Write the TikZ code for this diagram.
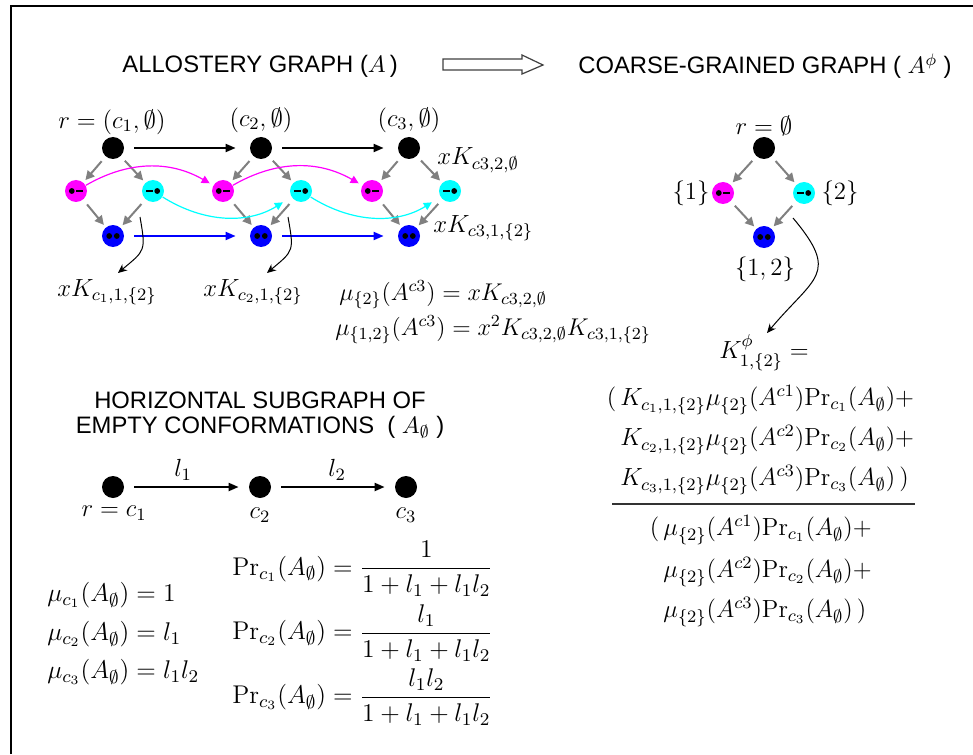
\RequirePackage{fix-cm}
\documentclass[tikz,border=0pt]{standalone}
\usepackage{fontspec}
\usepackage{amsmath}
\newfontfamily\headfont{Liberation Sans}
\usetikzlibrary{arrows.meta}
\definecolor{mgc}{RGB}{255,0,255}
\definecolor{cyc}{RGB}{0,255,255}
\definecolor{blc}{RGB}{0,0,255}
\definecolor{grc}{RGB}{128,128,128}
\begin{document}
\begin{tikzpicture}[x=0.5pt,y=0.5pt,
  every node/.style={font=\fontsize{12.4}{15}\selectfont, inner sep=0pt},
  bigmath/.style={font=\fontsize{12.8}{15}\selectfont},
  smallmath/.style={font=\fontsize{12.1}{15}\selectfont},
  head/.style={font=\fontsize{11.9}{14}\selectfont\headfont, inner sep=0pt},
  bk/.style={circle, fill=black, minimum size=11pt, inner sep=0pt},
  mg/.style={circle, fill=mgc, minimum size=11pt, inner sep=0pt,
    path picture={
      \fill[black] ([xshift=-2.1pt]path picture bounding box.center) circle[radius=1.45pt];
      \fill[black] ([xshift=0.2pt,yshift=-0.6pt]path picture bounding box.center) rectangle ++(3.2pt,1.2pt);}},
  cy/.style={circle, fill=cyc, minimum size=11pt, inner sep=0pt,
    path picture={
      \fill[black] ([xshift=2.1pt]path picture bounding box.center) circle[radius=1.45pt];
      \fill[black] ([xshift=-0.2pt,yshift=-0.6pt]path picture bounding box.center) rectangle ++(-3.2pt,1.2pt);}},
  bl/.style={circle, fill=blc, minimum size=11pt, inner sep=0pt,
    path picture={
      \fill[black] ([xshift=-1.9pt]path picture bounding box.center) circle[radius=1.45pt];
      \fill[black] ([xshift=1.9pt]path picture bounding box.center) circle[radius=1.45pt];}},
  garrow/.style={draw=grc, line width=1pt, -{Triangle[length=4.5pt,width=4.5pt]}, shorten <=3pt, shorten >=1.5pt},
  harrow/.style={line width=1pt, -{Triangle[length=5pt,width=4pt]}, shorten <=5pt, shorten >=7pt},
  mcurve/.style={draw=mgc, line width=0.6pt, -{Triangle[length=4pt,width=4pt]}, shorten >=2pt},
  ccurve/.style={draw=cyc, line width=0.6pt, -{Triangle[length=4pt,width=4pt]}, shorten >=5pt},
  kthin/.style={draw=black, line width=0.5pt, -{Stealth[length=4.5pt,width=4pt]}},
]
\useasboundingbox (0,0) rectangle (973,-754);
% frame
\draw[line width=0.9pt] (11,-754) -- (11,-6) -- (973,-6);

% headings
\node[head, anchor=west] (h1t) at (122,-66) {ALLOSTERY GRAPH ($A$\,)};
\node[head, anchor=west] (h2t) at (578,-66) {COARSE-GRAINED GRAPH ( $A^{\phi}$ )};
\draw[draw=black!75, line width=0.6pt, fill=white] (443,-59) -- (522,-59) -- (522,-55) -- (543,-65) -- (522,-74) -- (522,-70) -- (443,-70) -- cycle;
\node[head] (h3t) at (260,-400) {HORIZONTAL SUBGRAPH OF};
\node[head] (h4t) at (260,-427) {EMPTY CONFORMATIONS\ \ ( $A_{\emptyset}$ )};

% allostery graph
\node[bk] (b1) at (113,-148) {};
\node[bk] (b2) at (261,-148) {};
\node[bk] (b3) at (409,-148) {};
\node[mg] (m1) at (76,-191) {};
\node[mg] (m2) at (223,-191) {};
\node[mg] (m3) at (372,-191) {};
\node[cy] (c1) at (153,-191) {};
\node[cy] (c2) at (301,-191) {};
\node[cy] (c3) at (450,-191) {};
\node[bl] (u1) at (113,-236) {};
\node[bl] (u2) at (261,-236) {};
\node[bl] (u3) at (409,-236) {};

\foreach \i in {1,2,3}{
  \draw[garrow] (b\i) -- (m\i);
  \draw[garrow] (b\i) -- (c\i);
  \draw[garrow] (m\i) -- (u\i);
  \draw[garrow] (c\i) -- (u\i);
}
\draw[harrow] (b1) -- (b2);
\draw[harrow] (b2) -- (b3);
\draw[harrow, blc] (u1) -- (u2);
\draw[harrow, blc] (u2) -- (u3);
\draw[mcurve] (m1) to[bend left=30] (m2);
\draw[mcurve] (m2) to[bend left=30] (m3);
\draw[ccurve] (c1) to[bend right=32] (c2);
\draw[ccurve] (c2) to[bend right=32] (c3);

\node (lb1) at (112,-122) {$r=(c_1,\emptyset)$};
\node (lb2) at (261,-120) {$(c_2,\emptyset)$};
\node (lb3) at (409,-120) {$(c_3,\emptyset)$};
\node[anchor=west] (lk32) at (437,-160) {$xK_{c3,2,\emptyset}$};
\node[anchor=west] (lk31) at (433,-228) {$xK_{c3,1,\{2\}}$};
\node (lk11) at (107,-292) {$xK_{c_1,1,\{2\}}$};
\node (lk21) at (253,-292) {$xK_{c_2,1,\{2\}}$};
\node[smallmath, anchor=west] (mu2) at (339,-295) {$\mu_{\{2\}}(A^{c3})=xK_{c3,2,\emptyset}$};
\node[smallmath, anchor=west] (mu12) at (335,-330) {$\mu_{\{1,2\}}(A^{c3})=x^2K_{c3,2,\emptyset}K_{c3,1,\{2\}}$};

\coordinate (k1s) at (140,-217);
\coordinate (k1e) at (118,-273);
\coordinate (k2s) at (288,-217);
\coordinate (k2e) at (267,-273);
\draw[kthin] (k1s) to[out=-80, in=40, looseness=1.5] (k1e);
\draw[kthin] (k2s) to[out=-80, in=40, looseness=1.5] (k2e);

% coarse-grained graph
\node[bk] (cb) at (764,-148) {};
\node[mg] (cm) at (723,-193) {};
\node[cy] (cc) at (804,-193) {};
\node[bl] (cu) at (764,-237) {};
\draw[garrow] (cb) -- (cm);
\draw[garrow] (cb) -- (cc);
\draw[garrow] (cm) -- (cu);
\draw[garrow] (cc) -- (cu);
\node (clr) at (764,-126) {$r=\emptyset$};
\node (cl1) at (691,-193) {$\{1\}$};
\node (cl2) at (840,-193) {$\{2\}$};
\node (cl12) at (765,-269) {$\{1,2\}$};
\node (kphi) at (764,-353) {$K^{\phi}_{1,\{2\}}=$};
\coordinate (cs) at (793,-218);
\coordinate (ce) at (767,-333);
\draw[kthin] (cs) to[out=-50, in=50, looseness=1.6] (ce);

\node[anchor=west] (n1) at (620,-400) {$\llap{$(\,$}K_{c_1,1,\{2\}}\mu_{\{2\}}(A^{c1})\mathrm{Pr}_{c_1}(A_{\emptyset})+$};
\node[anchor=west] (n2) at (620,-440) {$K_{c_2,1,\{2\}}\mu_{\{2\}}(A^{c2})\mathrm{Pr}_{c_2}(A_{\emptyset})+$};
\node[anchor=west] (n3) at (620,-480) {$K_{c_3,1,\{2\}}\mu_{\{2\}}(A^{c3})\mathrm{Pr}_{c_3}(A_{\emptyset})\,)$};
\draw[line width=0.6pt, draw=black!80] (612,-504) -- (915,-504);
\node[anchor=west] (d1) at (663,-530) {$\llap{$(\,$}\mu_{\{2\}}(A^{c1})\mathrm{Pr}_{c_1}(A_{\emptyset})+$};
\node[anchor=west] (d2) at (663,-572) {$\mu_{\{2\}}(A^{c2})\mathrm{Pr}_{c_2}(A_{\emptyset})+$};
\node[anchor=west] (d3) at (663,-612) {$\mu_{\{2\}}(A^{c3})\mathrm{Pr}_{c_3}(A_{\emptyset})\,)$};

% horizontal subgraph
\node[bk] (hh1) at (113,-487) {};
\node[bk] (hh2) at (260,-487) {};
\node[bk] (hh3) at (406,-487) {};
\draw[harrow, shorten >=5pt] (hh1) -- (hh2);
\draw[harrow, shorten >=5pt] (hh2) -- (hh3);
\node (hl1) at (183,-470) {$l_1$};
\node (hl2) at (337,-470) {$l_2$};
\node (hr1) at (114,-513) {$r=c_1$};
\node (hc2) at (260,-515) {$c_2$};
\node (hc3) at (406,-515) {$c_3$};

\node[bigmath, anchor=west] (mc1) at (47,-595) {$\mu_{c_1}(A_{\emptyset})=1$};
\node[bigmath, anchor=west] (mc2) at (47,-634) {$\mu_{c_2}(A_{\emptyset})=l_1$};
\node[bigmath, anchor=west] (mc3) at (47,-672) {$\mu_{c_3}(A_{\emptyset})=l_1l_2$};

\node[bigmath, anchor=west] (p1) at (232,-569) {$\displaystyle \mathrm{Pr}_{c_1}(A_{\emptyset})=\frac{1}{1+l_1+l_1l_2}$};
\node[bigmath, anchor=west] (p2) at (232,-633) {$\displaystyle \mathrm{Pr}_{c_2}(A_{\emptyset})=\frac{l_1}{1+l_1+l_1l_2}$};
\node[bigmath, anchor=west] (p3) at (232,-697) {$\displaystyle \mathrm{Pr}_{c_3}(A_{\emptyset})=\frac{l_1l_2}{1+l_1+l_1l_2}$};
\end{tikzpicture}
\end{document}
